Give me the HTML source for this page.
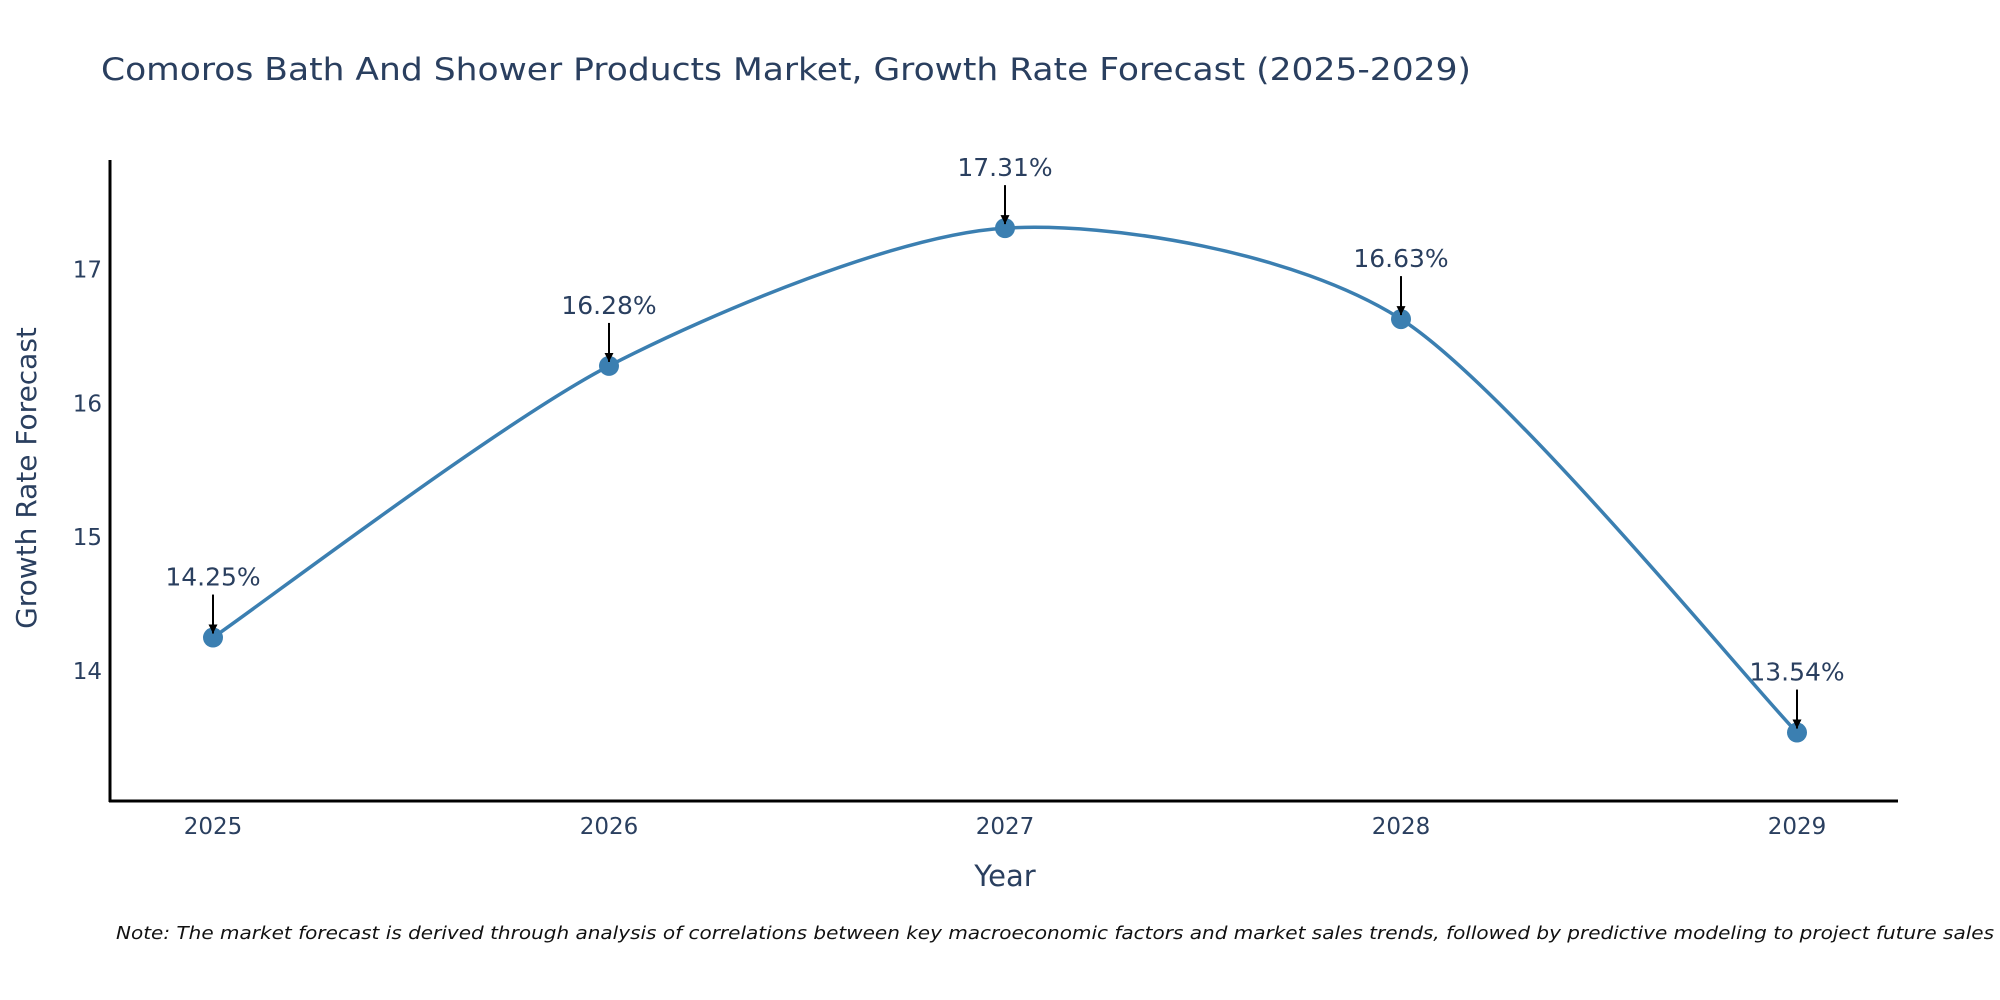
<!DOCTYPE html>
<html><head><meta charset="utf-8"><style>
html,body{margin:0;padding:0;background:#fff;}
svg{display:block;font-family:"DejaVu Sans","Liberation Sans",sans-serif;}
</style></head><body>
<svg id="chart" width="2000" height="1000" viewBox="0 0 2000 1000">
<defs><marker id="ah" viewBox="0 0 10 10" refX="10" refY="5" markerWidth="4.5" markerHeight="4.5" orient="auto"><path d="M0,0 L10,5 L0,10 z" fill="#000"/></marker></defs>
<text x="101" y="80" font-size="31" fill="#2a3f5f" textLength="1370" lengthAdjust="spacingAndGlyphs">Comoros Bath And Shower Products Market, Growth Rate Forecast (2025-2029)</text>
<g id="yticks"></g>
<g id="xticks"></g>
<line x1="110" y1="160" x2="110" y2="802" stroke="#000" stroke-width="3"/>
<line x1="109" y1="801" x2="1898" y2="801" stroke="#000" stroke-width="3"/>
<text x="1005" y="886" font-size="29" fill="#2a3f5f" text-anchor="middle">Year</text>
<text transform="translate(36,478) rotate(-90)" font-size="28" fill="#2a3f5f" text-anchor="middle">Growth Rate Forecast</text>
<g id="series"></g>
<g id="annos"></g>
<text x="116" y="939" font-size="18" font-style="italic" fill="#111" textLength="1878" lengthAdjust="spacingAndGlyphs">Note: The market forecast is derived through analysis of correlations between key macroeconomic factors and market sales trends, followed by predictive modeling to project future sales</text>
</svg>
<script>
const years = [2025, 2026, 2027, 2028, 2029];
const growth = [14.25, 16.28, 17.31, 16.63, 13.54];
const yTickVals = [14, 15, 16, 17];

const NS = "http://www.w3.org/2000/svg";
const xPx = i => 213 + i * 396;
const yPx = v => 671 - (v - 14) * 133.8;
function mk(tag, attrs, parent, txt) {
  const e = document.createElementNS(NS, tag);
  for (const k in attrs) e.setAttribute(k, attrs[k]);
  if (txt !== undefined) e.textContent = txt;
  parent.appendChild(e);
  return e;
}
const yt = document.getElementById('yticks');
yTickVals.forEach(v => {
  const t = mk('text', {x: 102, y: yPx(v) + 8, 'font-size': 23, fill: '#2a3f5f', 'text-anchor': 'end'}, yt, String(v));
  
  
});
const xt = document.getElementById('xticks');
years.forEach((yr, i) => {
  const t = mk('text', {x: xPx(i), y: 834, 'font-size': 23, fill: '#2a3f5f', 'text-anchor': 'middle'}, xt, String(yr));
  
  
});
const pts = growth.map((v, i) => [xPx(i), yPx(v)]);
let d = `M${pts[0][0]},${pts[0][1]}`;
const k = 7.5;
for (let i = 0; i < pts.length - 1; i++) {
  const p0 = pts[Math.max(i - 1, 0)], p1 = pts[i], p2 = pts[i + 1], p3 = pts[Math.min(i + 2, pts.length - 1)];
  const c1 = [p1[0] + (p2[0] - p0[0]) / k, p1[1] + (p2[1] - p0[1]) / k];
  const c2 = [p2[0] - (p3[0] - p1[0]) / k, p2[1] - (p3[1] - p1[1]) / k];
  d += ` C${c1[0]},${c1[1]} ${c2[0]},${c2[1]} ${p2[0]},${p2[1]}`;
}
const s = document.getElementById('series');
const line = mk('path', {d: d, fill: 'none', stroke: '#3b7fb1', 'stroke-width': 3.5}, s);


pts.forEach(p => {
  const c = mk('circle', {cx: p[0], cy: p[1], r: 10, fill: '#3b7fb1'}, s);
  
  
});
const an = document.getElementById('annos');
pts.forEach((p, i) => {
  const a = mk('line', {x1: p[0], y1: p[1] - 43, x2: p[0], y2: p[1] - 4, stroke: '#000', 'stroke-width': 2, 'marker-end': 'url(#ah)'}, an);
  
  
  const t = mk('text', {x: p[0], y: p[1] - 52, 'font-size': 25, fill: '#2a3f5f', 'text-anchor': 'middle'}, an, growth[i].toFixed(2) + '%');
  
  
});
</script>
</body></html>
